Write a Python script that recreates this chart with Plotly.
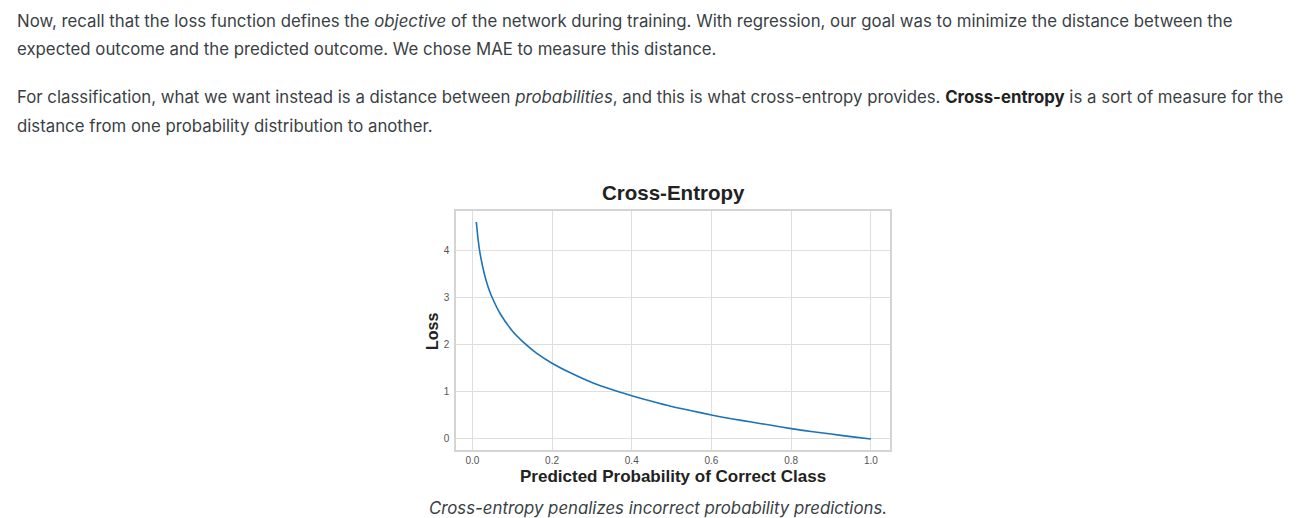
import plotly.graph_objects as go

# values
prob = [0.01, 0.015, 0.02, 0.03, 0.04, 0.05, 0.07, 0.1, 0.13, 0.16, 0.2, 0.25, 0.3, 0.35, 0.4,
        0.45, 0.5, 0.55, 0.6, 0.65, 0.7, 0.75, 0.8, 0.85, 0.9, 0.95, 1.0]
loss = [4.61, 4.20, 3.91, 3.51, 3.22, 3.00, 2.66, 2.30, 2.04, 1.83, 1.61, 1.39, 1.20, 1.05, 0.92,
        0.80, 0.69, 0.60, 0.51, 0.43, 0.36, 0.29, 0.22, 0.16, 0.105, 0.05, 0.0]
xticks = [0.0, 0.2, 0.4, 0.6, 0.8, 1.0]
xticklabels = ["0.0", "0.2", "0.4", "0.6", "0.8", "1.0"]
yticks = [0, 1, 2, 3, 4]
yticklabels = ["0", "1", "2", "3", "4"]

OFF = 8  # page body margin
W, H = 1304 - 2 * OFF, 518 - OFF
L, R, T, B = 456 - OFF, 890 - OFF, 211 - OFF, 450 - OFF

fig = go.Figure()
fig.add_trace(go.Scatter(x=prob, y=loss, mode="lines",
                         line=dict(color="#1c73b9", width=1.6, shape="spline", smoothing=0.8),
                         hoverinfo="skip", showlegend=False))

axis_common = dict(showgrid=True, gridcolor="#dedede", gridwidth=1, zeroline=False,
                   showline=True, mirror=True, linecolor="#d4d4d4", linewidth=1.5,
                   ticks="", tickfont=dict(family="Liberation Sans", size=10, color="#555555"))

fig.update_layout(
    width=W, height=H,
    margin=dict(l=L, r=W - R, t=T, b=H - B, autoexpand=False),
    paper_bgcolor="white", plot_bgcolor="white",
    xaxis=dict(range=[-0.041, 1.048], tickvals=xticks, ticktext=xticklabels, **axis_common),
    yaxis=dict(range=[-0.234, 4.843], tickvals=yticks, ticktext=yticklabels,
               ticklabelstandoff=3, **axis_common),
)

def px_x(px):
    return (px - OFF - L) / (R - L)

def px_y(py):
    return (B - (py - OFF)) / (B - T)

text_font = dict(family="Inter", size=16.8, color="#3a3f45")
lines = [
    (21, "Now, recall that the loss function defines the <i>objective</i> of the network during training. With regression, our goal was to minimize the distance between the"),
    (49, "expected outcome and the predicted outcome. We chose MAE to measure this distance."),
    (97, "For classification, what we want instead is a distance between <i>probabilities</i>, and this is what cross-entropy provides. <b style='color:#222'>Cross-entropy</b> is a sort of measure for the"),
    (126, "distance from one probability distribution to another."),
]
ann = []
for y, t in lines:
    ann.append(dict(x=px_x(15), y=px_y(y), xref="paper", yref="paper", text=t, showarrow=False,
                    xanchor="left", yanchor="middle", font=text_font))

ann.append(dict(x=px_x(658), y=px_y(508), xref="paper", yref="paper",
                text="<i>Cross-entropy penalizes incorrect probability predictions.</i>",
                showarrow=False, xanchor="center", yanchor="middle", font=text_font))

ann.append(dict(x=px_x(673), y=px_y(192), xref="paper", yref="paper", text="<b>Cross-Entropy</b>",
                showarrow=False, xanchor="center", yanchor="middle",
                font=dict(family="Liberation Sans", size=20.5, color="#222222")))
ann.append(dict(x=px_x(673), y=px_y(476), xref="paper", yref="paper",
                text="<b>Predicted Probability of Correct Class</b>",
                showarrow=False, xanchor="center", yanchor="middle",
                font=dict(family="Liberation Sans", size=17, color="#222222")))
ann.append(dict(x=px_x(432), y=px_y(332), xref="paper", yref="paper", text="<b>Loss</b>",
                showarrow=False, xanchor="center", yanchor="middle", textangle=-90,
                font=dict(family="Liberation Sans", size=16, color="#222222")))

fig.update_layout(annotations=ann)
fig.write_html("out.html")
